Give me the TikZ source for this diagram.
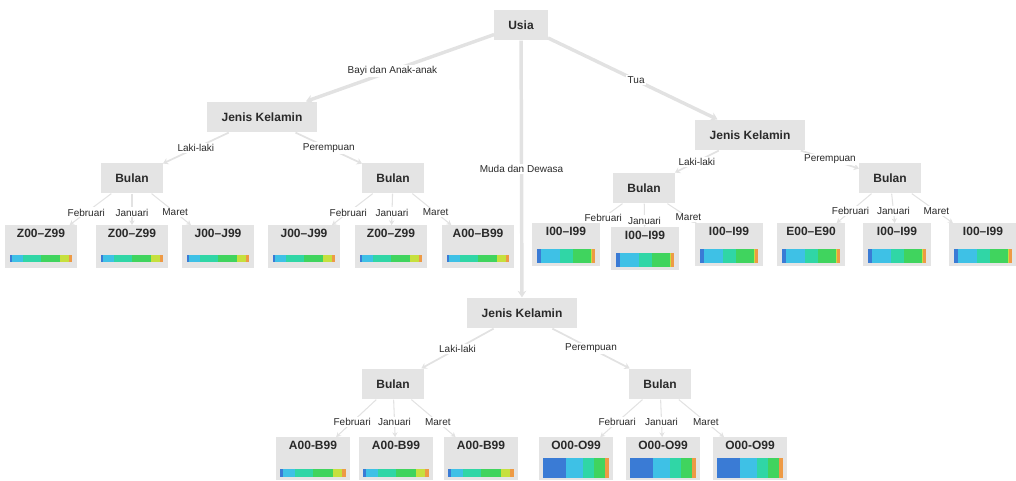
\documentclass[tikz,border=0pt]{standalone}
\usepackage{fontspec}
\setmainfont{Liberation Sans}
\usetikzlibrary{arrows.meta,calc}

\definecolor{boxgray}{HTML}{E4E4E4}
\definecolor{edgegray}{HTML}{E2E2E2}
\definecolor{txtdark}{HTML}{2A2A2A}
\definecolor{hbblue}{HTML}{3A7BD5}
\definecolor{hbcyan}{HTML}{3EC1E6}
\definecolor{hbteal}{HTML}{30D6A6}
\definecolor{hbgreen}{HTML}{40D45E}
\definecolor{hbyellow}{HTML}{C6E03E}
\definecolor{hborange}{HTML}{EE9A45}

\tikzset{
  box/.style={fill=boxgray, text=txtdark, font=\bfseries\fontsize{9}{10}\selectfont, inner sep=0pt},
  attr/.style={box, minimum height=23pt},
  leaf/.style={box, anchor=north, text height=6.5pt, text depth=19.5pt, inner ysep=3pt},
  elab/.style={fill=white, text=txtdark, font=\fontsize{7.5}{8}\selectfont, inner sep=1pt},
  edge/.style={draw=edgegray, -{Stealth[length=4pt,width=4pt]}},
  thickedge/.style={edge, line width=2.6pt, -{Stealth[length=5pt,width=6.5pt]}},
  midedge/.style={edge, line width=1.3pt, -{Stealth[length=4pt,width=5pt]}},
  leafedge/.style={edge, line width=0.8pt, -{Stealth[length=3.5pt,width=4pt]}}
}

% colour runs of the little bars: from/to/colour
\def\patZ{0/.04/hbblue,.04/.22/hbcyan,.22/.5/hbteal,.5/.8/hbgreen,.8/.95/hbyellow,.95/1/hborange}
\def\patI{0/.08/hbblue,.08/.4/hbcyan,.4/.62/hbteal,.62/.92/hbgreen,.92/.95/hbyellow,.95/1/hborange}
\def\patO{0/.35/hbblue,.35/.6/hbcyan,.6/.78/hbteal,.78/.95/hbgreen,.95/1/hborange}

% node, offset from bottom, height, colour runs (all in px)
\newcommand{\heatbar}[4]{%
  \path (#1.south west) ++(5,-#2) coordinate (hb-bl);
  \path (#1.south east) ++(-5,-#2-#3) coordinate (hb-tr);
  \foreach \a/\b/\c in #4
    {\fill[\c] ($(hb-bl)!\a!(hb-bl -| hb-tr)$) rectangle ($(hb-tr -| hb-bl)!\b!(hb-tr)$);}
}

\begin{document}
\begin{tikzpicture}[x=0.75pt,y=-0.75pt]
  \useasboundingbox (0,0) rectangle (1016,480);

  \node[attr, minimum width=40pt] (usia) at (521,25) {Usia};
  \node[attr, minimum width=83pt] (jkL) at (262,117) {Jenis Kelamin};
  \node[attr, minimum width=83pt] (jkR) at (750,135) {Jenis Kelamin};
  \node[attr, minimum width=83pt] (jkM) at (522,313) {Jenis Kelamin};
  \node[attr, minimum width=46pt] (bulLL) at (132,178) {Bulan};
  \node[attr, minimum width=46pt] (bulLR) at (393,178) {Bulan};
  \node[attr, minimum width=46pt] (bulRL) at (644,188) {Bulan};
  \node[attr, minimum width=46pt] (bulRR) at (890,178) {Bulan};
  \node[attr, minimum width=46pt] (bulML) at (393,384) {Bulan};
  \node[attr, minimum width=46pt] (bulMR) at (660,384) {Bulan};

  % leaves
  \foreach \n/\x/\t in {ll1/41/Z00–Z99, ll2/132/Z00–Z99, ll3/218/J00–J99,
                        lr1/304/J00–J99, lr2/391/Z00–Z99, lr3/478/A00–B99}
    \node[leaf, minimum width=54pt] (\n) at (\x,225) {\t};
  \foreach \n/\x/\y/\t in {rl1/566/223/I00–I99, rl2/645/227/I00–I99, rl3/729/223/I00–I99,
                           rr1/811/223/E00–E90, rr2/897/223/I00–I99, rr3/983/223/I00–I99}
    \node[leaf, minimum width=51pt] (\n) at (\x,\y) {\t};
  \foreach \n/\x/\t in {ml1/313/A00-B99, ml2/396/A00-B99, ml3/481/A00-B99,
                        mr1/576/O00-O99, mr2/663/O00-O99, mr3/750/O00-O99}
    \node[leaf, minimum width=56pt] (\n) at (\x,437) {\t};

  \foreach \n in {ll1,ll2,ll3,lr1,lr2,lr3} {\heatbar{\n}{6}{7}{\patZ}}
  \foreach \n in {rl1,rl2,rl3,rr1,rr2,rr3} {\heatbar{\n}{3}{14}{\patI}}
  \foreach \n in {ml1,ml2,ml3} {\heatbar{\n}{3}{8}{\patZ}}
  \foreach \n in {mr1,mr2,mr3} {\heatbar{\n}{2}{20}{\patO}}

  % edges
  \draw[thickedge] (usia) -- node[elab, pos=.54] {Bayi dan Anak-anak} (jkL);
  \draw[thickedge] (usia) -- node[elab, pos=.5] {Muda dan Dewasa} (jkM);
  \draw[thickedge] (usia) -- node[elab, pos=.52] {Tua} (jkR);
  \foreach \p/\l/\r in {jkL/bulLL/bulLR, jkR/bulRL/bulRR, jkM/bulML/bulMR} {
    \draw[midedge] (\p) -- node[elab] {Laki-laki} (\l);
    \draw[midedge] (\p) -- node[elab] {Perempuan} (\r);
  }
  \foreach \p/\c/\q in {bulLL/ll/.6, bulLR/lr/.6, bulRL/rl/.72, bulRR/rr/.6, bulML/ml/.6, bulMR/mr/.6} {
    \draw[leafedge] (\p) -- node[elab, pos=\q] {Februari} (\c1);
    \draw[leafedge] (\p) -- node[elab, pos=\q] {Januari} (\c2);
    \draw[leafedge] (\p) -- node[elab, pos=\q] {Maret} (\c3);
  }
\end{tikzpicture}
\end{document}
